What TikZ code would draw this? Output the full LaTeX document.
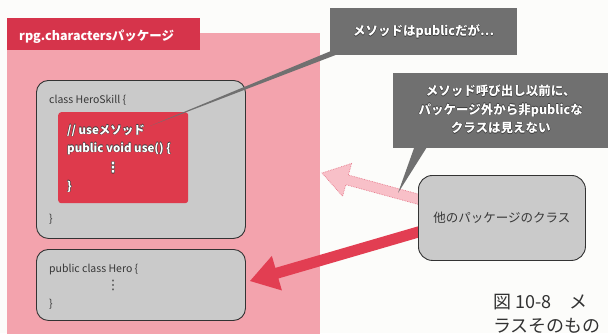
\documentclass[tikz,border=0pt]{standalone}
\usepackage{fontspec}
\setmainfont{Noto Sans CJK JP}
\newfontfamily\symfont{DejaVu Sans}
\usetikzlibrary{calc}
\definecolor{bgc}{RGB}{252,252,250}
\definecolor{pkgpink}{RGB}{243,163,173}
\definecolor{hdrred}{RGB}{214,52,75}
\definecolor{inred}{RGB}{222,58,76}
\definecolor{boxgray}{RGB}{202,202,202}
\definecolor{callgray}{RGB}{112,112,112}
\definecolor{lightarr}{RGB}{248,192,200}
\definecolor{lightarrb}{RGB}{230,120,138}
\definecolor{darkarr}{RGB}{226,62,82}
\definecolor{olc}{RGB}{60,60,60}
\definecolor{codegray}{RGB}{55,55,55}
\definecolor{capc}{RGB}{50,50,50}
\newcommand\olt[1]{\leavevmode\rlap{\color{olc}\hspace{-0.5pt}#1}\rlap{\color{olc}\hspace{0.5pt}#1}\rlap{\color{olc}\raisebox{0.5pt}{#1}}\rlap{\color{olc}\raisebox{-0.5pt}{#1}}{\color{white}#1}}
\begin{document}
\begin{tikzpicture}[x=1pt,y=-1pt,
  pkgarea/.style={fill=pkgpink, anchor=north west, inner sep=0pt},
  hdrbox/.style={fill=hdrred, anchor=north west, inner sep=0pt},
  classbox/.style={draw=black!80, line width=0.9pt, fill=boxgray, rounded corners=12pt, anchor=north west, inner sep=0pt},
  redbox/.style={fill=inred, rounded corners=3pt, anchor=north west, inner sep=0pt},
  callbox/.style={fill=callgray, anchor=north west, inner sep=0pt},
  codetxt/.style={anchor=base west, inner sep=0pt, font=\fontsize{10.5}{12}\selectfont, text=codegray},
  redtxt/.style={anchor=base west, inner sep=0pt, font=\fontsize{11.5}{12}\selectfont\bfseries},
  calltxt/.style={inner sep=0pt, align=center, font=\fontsize{12.5}{18.5}\selectfont\bfseries},
  captxt/.style={anchor=base west, inner sep=0pt, font=\fontsize{18}{20}\selectfont, text=capc}
]
\clip (0,0) rectangle (608,333);
\fill[bgc] (0,0) rectangle (608,333);

% package area
\node[pkgarea, minimum width=313, minimum height=310] (pkg) at (7,33) {};
\node[hdrbox, minimum width=193, minimum height=32] (hdr) at (7,18) {};
\node[anchor=base west, inner sep=0pt, text=white, font=\fontsize{12.5}{14}\selectfont\bfseries] (hdrtxt) at (19,40) {rpg.charactersパッケージ};

% HeroSkill class
\node[classbox, minimum width=209, minimum height=158] (skill) at (36,80) {};
\node[codetxt] (skill1) at (49,103) {class HeroSkill \{};
\node[redbox, minimum width=130, minimum height=91] (inner) at (58,112) {};
\node[redtxt] (in1) at (67,134) {\olt{// useメソッド}};
\node[redtxt] (in2) at (67,152) {\olt{public void use() \{}};
\node[redtxt, anchor=center, font=\symfont\bfseries\fontsize{14}{14}\selectfont] (in3) at (113,168) {\olt{⋮}};
\node[redtxt] (in4) at (67,190) {\olt{\}}};
\node[codetxt] (skill2) at (49,222) {\}};

% Hero class
\node[classbox, minimum width=209, minimum height=71] (hero) at (36,249) {};
\node[codetxt] (hero1) at (49,272) {public class Hero \{};
\node[codetxt, anchor=center, font=\symfont\fontsize{13}{13}\selectfont] (hero2) at (113,285) {⋮};
\node[codetxt] (hero3) at (49,307) {\}};

% arrow geometry
\coordinate (otherNW) at (418,175);
\coordinate (sL) at (432,203);
\coordinate (tL) at (322,173);
\coordinate (sD) at (432,228);
\coordinate (tD) at (250,281);

% light (dotted outline) arrow
\coordinate (hL) at ($(tL)!26pt!(sL)$);
\filldraw[fill=lightarr, draw=lightarrb, densely dotted, line width=0.7pt]
  ($(sL)!5pt!90:(tL)$) -- ($(hL)!5pt!90:(tL)$) -- ($(hL)!17pt!90:(tL)$) -- (tL)
  -- ($(hL)!17pt!-90:(tL)$) -- ($(hL)!5pt!-90:(tL)$) -- ($(sL)!5pt!-90:(tL)$);

% dark arrow
\coordinate (hD) at ($(tD)!28pt!(sD)$);
\fill[darkarr]
  ($(sD)!5.5pt!90:(tD)$) -- ($(hD)!5.5pt!90:(tD)$) -- ($(hD)!18pt!90:(tD)$) -- (tD)
  -- ($(hD)!18pt!-90:(tD)$) -- ($(hD)!5.5pt!-90:(tD)$) -- ($(sD)!5.5pt!-90:(tD)$) -- cycle;

\node[classbox, rounded corners=14pt, minimum width=167, minimum height=85] (other) at (otherNW) {};
\node[inner sep=0pt, font=\fontsize{12.5}{13}\selectfont, text=codegray] (othertxt) at (other.center) {他のパッケージのクラス};

% callout 1
\node[callbox, minimum width=187, minimum height=47] (c1) at (330,8) {};
\coordinate (t1) at (150,126);
\fill[callgray] ($(c1.south west)+(0,-4)$) -- ($(c1.south west)+(15,-4)$) -- (t1) -- cycle;
\node[calltxt] (c1txt) at (c1.center) {\olt{メソッドはpublicだが…}};

% callout 2
\node[callbox, minimum width=215, minimum height=75] (c2) at (393,73) {};
\coordinate (t2) at (398,193);
\fill[callgray] ($(c2.south west)+(22,-3)$) -- ($(c2.south west)+(35,-3)$) -- (t2) -- cycle;
\node[calltxt] (c2txt) at ($(c2.center)+(0,-1)$) {\olt{メソッド呼び出し以前に、}\\\olt{パッケージ外から非publicな}\\\olt{クラスは見えない}};

% caption (cut off at the edge, as in the reference)
\node[captxt] (cap1) at (493,308) {図 10-8　メ};
\node[captxt] (cap2) at (493,332) {ラスそのもの};
\end{tikzpicture}
\end{document}
